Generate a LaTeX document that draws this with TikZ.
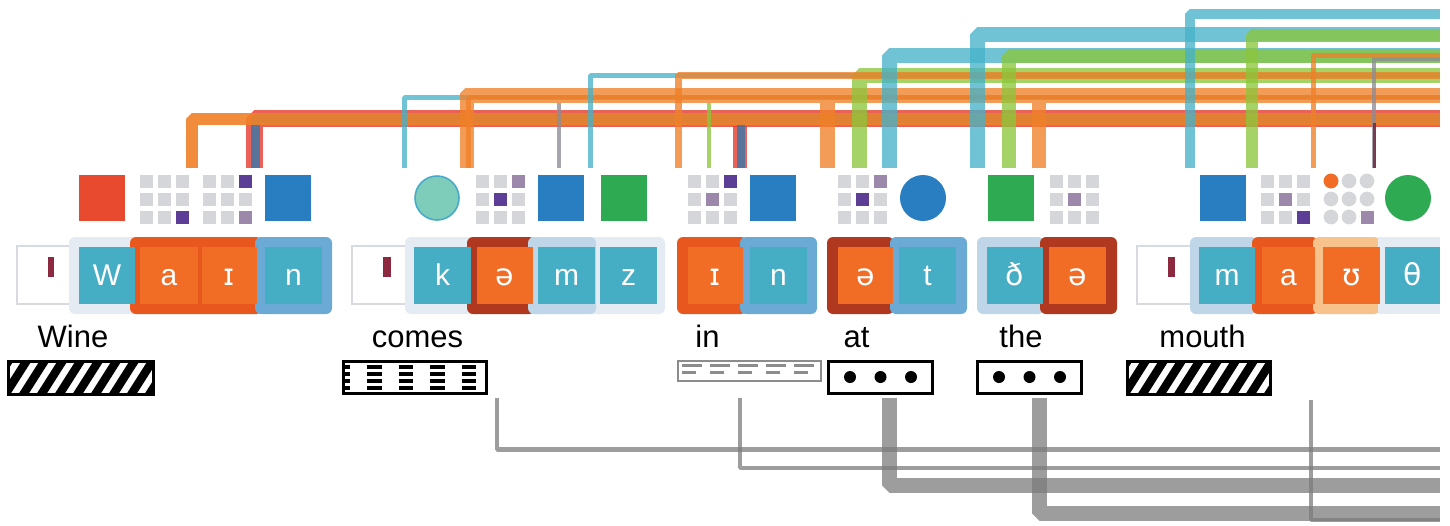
\documentclass[tikz,border=0pt]{standalone}
\usepackage{fontspec}
\setmainfont{Liberation Sans}
\newfontfamily\ipafont{DejaVu Sans}
\usetikzlibrary{calc}
\definecolor{sqteal}{RGB}{70,174,196}
\definecolor{sqorange}{RGB}{241,108,36}
\definecolor{grpdorange}{RGB}{232,88,30}
\definecolor{grpbrown}{RGB}{176,56,30}
\definecolor{grpblue}{RGB}{108,170,214}
\definecolor{grplblue}{RGB}{190,214,232}
\definecolor{grplgray}{RGB}{229,235,243}
\definecolor{grplorange}{RGB}{248,194,140}
\definecolor{stressgray}{RGB}{215,219,225}
\definecolor{maroon}{RGB}{140,40,64}
\definecolor{tsqred}{RGB}{232,74,48}
\definecolor{tsqblue}{RGB}{40,126,192}
\definecolor{tsqgreen}{RGB}{46,170,82}
\definecolor{tcircfill}{RGB}{126,204,186}
\definecolor{tcircdraw}{RGB}{72,170,200}
\definecolor{gridgray}{RGB}{212,214,218}
\definecolor{dpurp}{RGB}{92,62,150}
\definecolor{lpurp}{RGB}{156,136,170}
\definecolor{lineorange}{RGB}{240,128,40}
\definecolor{linered}{RGB}{228,54,40}
\definecolor{lineblue}{RGB}{50,120,175}
\definecolor{linecyan}{RGB}{70,178,200}
\definecolor{linegreen}{RGB}{140,198,60}
\definecolor{linegray}{RGB}{140,140,150}
\definecolor{linemaroon}{RGB}{110,30,55}
\definecolor{bottomgray}{RGB}{124,124,124}
\definecolor{inboxgray}{RGB}{140,140,140}
\tikzset{
  tline/.style={opacity=0.78, line join=bevel},
  bline/.style={draw=bottomgray, opacity=0.75, line join=bevel},
  ph/.style={text=white, font=\fontsize{15}{17}\selectfont, inner sep=0pt, anchor=base},
  lbl/.style={text=black, font=\fontsize{15.5}{18}\selectfont, inner sep=0pt, anchor=base},
  tsq/.style={minimum size=23pt, inner sep=0pt, outer sep=0pt},
  tcirc/.style={circle, minimum size=23pt, inner sep=0pt, outer sep=0pt},
  stressbox/.style={fill=white, draw=stressgray, line width=0.8pt},
  patbox/.style={draw=black, line width=1.5pt}
}
\newcommand\mkconn[4]{\draw[tline,draw=#1,line width=#2] (#3,168) -- (#3,#4) -- (1440,#4);}
\newcommand\grp[3]{\fill[#1,rounded corners=3pt] (#2,237) rectangle (#3,314);}
\newcommand\psq[5]{\fill[#4] (#2,247) rectangle (#3,304);
  \node[ph] (#1) at ({(#2+#3)/2},285) {#5};}
\newcommand\stressmark[5]{\draw[stressbox] (#2,246) rectangle (#3,304);
  \fill[maroon] (#4,257) rectangle (#5,277);
  \coordinate (#1) at ({(#2+#3)/2},275);}
\newcommand\sgrid[1]{\foreach \i in {0,1,2}{\foreach \j in {0,1,2}{%
  \fill[gridgray] ({#1+18*\i},{175+18*\j}) rectangle ++(12.5,12.5);}}}
\newcommand\gcell[4]{\fill[#4] ({#1+18*#2},{175+18*#3}) rectangle ++(12.5,12.5);}
\newcommand\hatchbox[3]{%
  \begin{scope}
  \clip (#2,360) rectangle (#3,393);
  \foreach \k in {-1,...,9}{\draw[line width=4.2pt] ({#2+\k*18-4},398) -- ++(28,-44);}
  \end{scope}
  \node[patbox, minimum width={(#3-#2)*0.5pt}, minimum height=16.5pt, inner sep=0pt, anchor=north west] (#1) at (#2,360) {};}
\newcommand\dotbox[2]{%
  \node[patbox, fill=white, minimum width=52pt, minimum height=16pt, inner sep=0pt, anchor=north west] (#1) at (#2,360) {};
  \foreach \d in {0,1,2}{\fill ({#2+23+30.5*\d},377) circle (3pt);}}
\begin{document}
\begin{tikzpicture}[x=0.5pt,y=-0.5pt]
\useasboundingbox (0,0) rectangle (1450,525);

% ---------- top connectors ----------
\mkconn{linered}{8.5pt}{254.5}{118.5}
\draw[tline,draw=linered,line width=7pt] (740,168) -- (740,126);
\mkconn{lineblue}{4.5pt}{255}{118.5}
\draw[tline,draw=lineblue,line width=4pt] (741,168) -- (741,123);
\draw[line join=bevel,opacity=0.9,draw=lineorange,line width=6pt] (192,168) -- (192,118.5) -- (1440,118.5);
\mkconn{linecyan}{2.5pt}{404.5}{97}
\mkconn{lineorange}{5.5pt}{465}{93.5}
\mkconn{lineorange}{4pt}{470}{99}
\draw[tline,draw=lineorange,line width=7.5pt] (827.5,168) -- (827.5,103);
\draw[tline,draw=lineorange,line width=7pt] (1039,168) -- (1039,103);
\draw[tline,draw=linegray,line width=2pt] (559,168) -- (559,103);
\mkconn{linecyan}{2.5pt}{590.5}{75}
\draw[tline,draw=linegreen,line width=2pt] (709,168) -- (709,103);
\mkconn{linegreen}{7.5pt}{859}{75.5}
\mkconn{lineorange}{3.5pt}{678.5}{75.5}
\mkconn{linecyan}{7.5pt}{889.5}{55.5}
\mkconn{linecyan}{7.5pt}{977}{34.5}
\mkconn{linegreen}{7pt}{1008.5}{55.5}
\mkconn{linecyan}{5pt}{1190}{14}
\mkconn{linegreen}{6pt}{1251.5}{34.5}
\mkconn{linegray}{2pt}{1374}{59}
\mkconn{lineorange}{2.5pt}{1313}{55.5}
\draw[tline,draw=linemaroon,line width=1.5pt] (1374,168) -- (1374,123);

% ---------- top elements ----------
% Wine
\node[tsq, fill=tsqred] (w1r) at (102,198) {};
\sgrid{140} \gcell{140}{2}{2}{dpurp}
\sgrid{203} \gcell{203}{2}{0}{dpurp} \gcell{203}{2}{2}{lpurp}
\node[tsq, fill=tsqblue] (w1b) at (288,198) {};
% comes
\node[tcirc, fill=tcircfill, draw=tcircdraw, line width=0.8pt, minimum size=22pt] (w2c) at (437,198) {};
\sgrid{476} \gcell{476}{2}{0}{lpurp} \gcell{476}{1}{1}{dpurp}
\node[tsq, fill=tsqblue] (w2b) at (561,198) {};
\node[tsq, fill=tsqgreen] (w2g) at (623.5,198) {};
% in
\sgrid{688} \gcell{688}{2}{0}{dpurp} \gcell{688}{1}{1}{lpurp}
\node[tsq, fill=tsqblue] (w3b) at (773,198) {};
% at
\sgrid{838} \gcell{838}{2}{0}{lpurp} \gcell{838}{1}{1}{dpurp}
\node[tcirc, fill=tsqblue] (w4c) at (923,198) {};
% the
\node[tsq, fill=tsqgreen] (w5g) at (1010.5,198) {};
\sgrid{1050} \gcell{1050}{1}{1}{lpurp}
% mouth
\node[tsq, fill=tsqblue] (w6b) at (1222.5,198) {};
\sgrid{1261} \gcell{1261}{1}{1}{lpurp} \gcell{1261}{2}{2}{dpurp}
\foreach \i in {0,1,2}{\foreach \j in {0,1,2}{\fill[gridgray] ({1331+18*\i},{181+18*\j}) circle (3.7pt);}}
\fill[sqorange] (1331,181) circle (3.7pt);
\fill[white] (1360,210) rectangle (1375,225);
\fill[lpurp] (1361,211) rectangle ++(12.5,12.5);
\node[tcirc, fill=tsqgreen] (w6c) at (1408,198) {};

% ---------- phoneme row ----------
% Wine
\stressmark{s1}{17}{74}{48}{54}
\grp{grplgray}{69}{140}
\grp{grpdorange}{130}{262}
\grp{grpblue}{255}{332}
\psq{pW}{79}{135}{sqteal}{W}
\psq{pa}{140}{198}{sqorange}{a}
\psq{pI}{202}{257}{sqorange}{{\ipafont ɪ}}
\psq{pn}{265}{322}{sqteal}{n}
% comes
\stressmark{s2}{352}{409}{383}{391}
\grp{grplgray}{405}{665}
\grp{grpbrown}{467}{535}
\grp{grplblue}{528}{596}
\psq{pk}{414}{471}{sqteal}{k}
\psq{pe1}{477}{533}{sqorange}{{\ipafont ə}}
\psq{pm1}{538}{595}{sqteal}{m}
\psq{pz}{600}{657}{sqteal}{z}
% in
\grp{grpdorange}{677}{747}
\grp{grpblue}{740}{817}
\psq{pI2}{688}{743}{sqorange}{{\ipafont ɪ}}
\psq{pn2}{750}{807}{sqteal}{n}
% at
\grp{grpbrown}{827}{894}
\grp{grpblue}{890}{967}
\psq{pe2}{838}{893}{sqorange}{{\ipafont ə}}
\psq{pt}{899}{956}{sqteal}{t}
% the
\grp{grplblue}{977}{1044}
\grp{grpbrown}{1040}{1117}
\psq{pdh}{987}{1043}{sqteal}{{\ipafont ð}}
\psq{pe3}{1049}{1106}{sqorange}{{\ipafont ə}}
% mouth
\stressmark{s6}{1137}{1193}{1168}{1175}
\grp{grplblue}{1190}{1257}
\grp{grpdorange}{1252}{1318}
\grp{grplorange}{1313}{1380}
\fill[grplgray] (1378,237) rectangle (1440,314);
\psq{pm2}{1199}{1255}{sqteal}{m}
\psq{pa2}{1262}{1315}{sqorange}{a}
\psq{pU}{1323}{1380}{sqorange}{{\ipafont ʊ}}
\psq{pth}{1385}{1440}{sqteal}{{\ipafont θ}}

% ---------- word labels ----------
\node[lbl] (lWine) at (73,347) {Wine};
\node[lbl] (lcomes) at (417.5,347) {comes};
\node[lbl] (lin) at (707.5,347) {in};
\node[lbl] (lat) at (856.5,347) {at};
\node[lbl] (lthe) at (1021,347) {the};
\node[lbl] (lmouth) at (1202.5,347) {mouth};

% ---------- pattern boxes ----------
\hatchbox{bWine}{7}{152}
\hatchbox{bmouth}{1126}{1269}
% comes
\begin{scope}
\clip (342,360) rectangle (485,392);
\foreach \k in {0,...,4}{\foreach \r in {0,1,2,3}{%
  \fill ({335.5+31.5*\k},{364.5+7.3*\r}) rectangle ++(14.5,4);}}
\end{scope}
\node[patbox, minimum width=71.5pt, minimum height=16pt, inner sep=0pt, anchor=north west] (bcomes) at (342,360) {};
% in
\node[draw=inboxgray, line width=1pt, minimum width=71.5pt, minimum height=10pt, inner sep=0pt, anchor=north west] (bin) at (677,360) {};
\foreach \k in {0,...,4}{%
  \fill[inboxgray] ({682+28*\k},363.5) rectangle ++(20,3);
  \fill[inboxgray] ({682+28*\k},371) rectangle ++(14,3);}
% at, the
\dotbox{bat}{827}
\dotbox{bthe}{976}

% ---------- bottom connectors ----------
\draw[bline, line width=2.25pt] (497,398) -- (497,449.5) -- (1440,449.5);
\draw[bline, line width=2pt] (739.5,398) -- (739.5,468) -- (1440,468);
\draw[bline, line width=7.5pt] (889.5,398) -- (889.5,485.5) -- (1440,485.5);
\draw[bline, line width=7.5pt] (1039,398) -- (1039,513) -- (1440,513);
\draw[bline, line width=2pt] (1311,400) -- (1311,520) -- (1440,520);
\end{tikzpicture}
\end{document}
